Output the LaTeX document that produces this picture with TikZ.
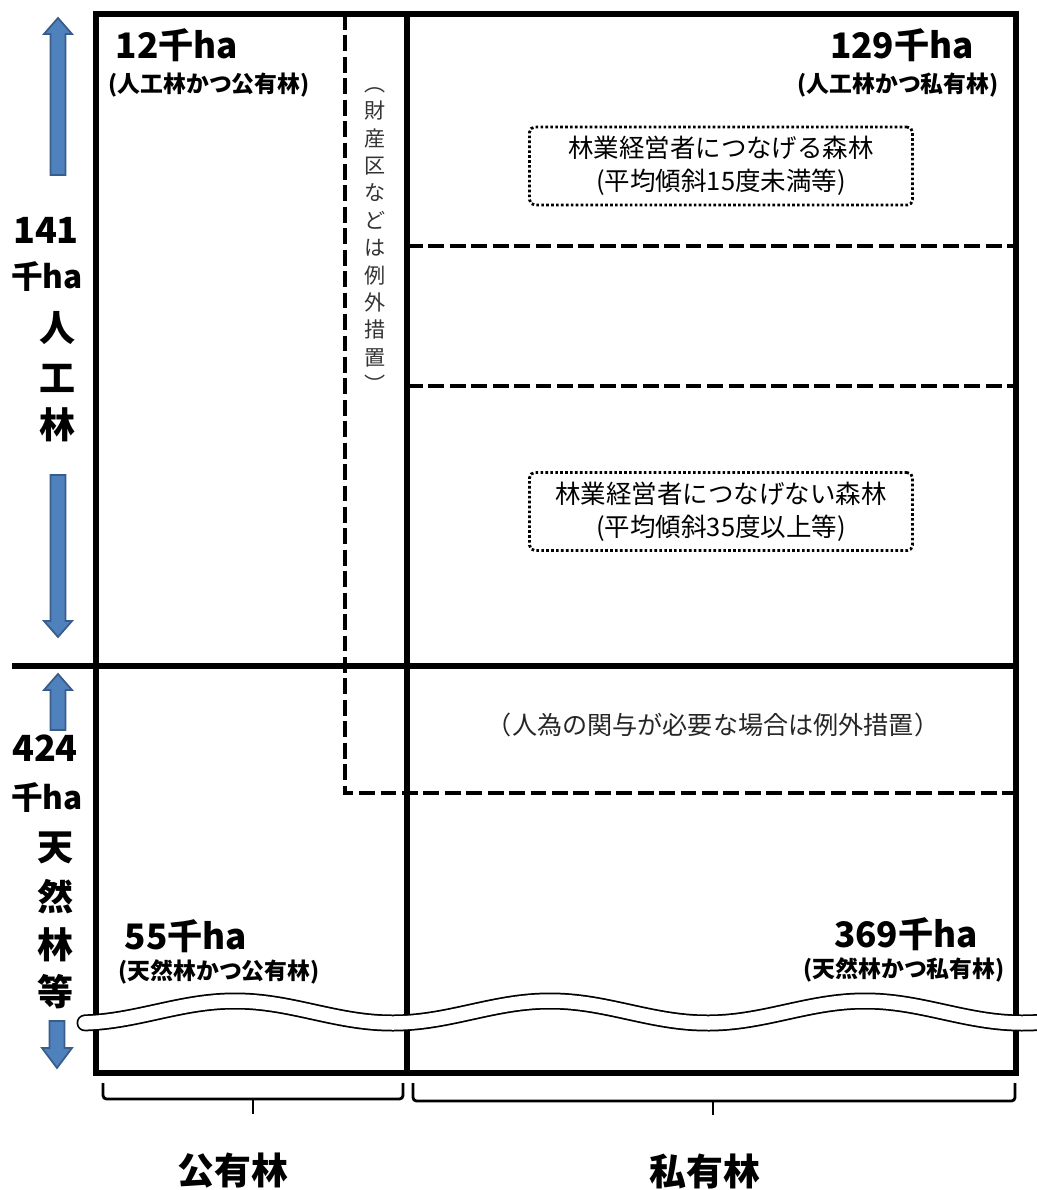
\documentclass[tikz,border=0pt]{standalone}
\usepackage{fontspec}
\setmainfont{Noto Sans CJK JP}
\usetikzlibrary{positioning}
\definecolor{arrowfill}{RGB}{79,129,189}
\definecolor{arrowline}{RGB}{56,93,138}
\tikzset{
  frame/.style={black, line width=3.3pt},
  divider/.style={black, line width=3pt},
  dashline/.style={black, line width=2.3pt, dash pattern=on 9pt off 3.2pt},
  dotbox/.style={draw, line width=1.6pt, dash pattern=on 1.5pt off 1.3pt, rounded corners=3pt,
    minimum width=7.66cm, minimum height=1.56cm, align=center,
    font=\fontsize{14.5}{18.7}\selectfont},
  blockarrow/.style={fill=arrowfill, draw=arrowline, line width=1pt},
  bracket/.style={black, line width=1.6pt, rounded corners=2pt},
  amount/.style={font=\bfseries\fontsize{20}{24}\selectfont},
  sublabel/.style={font=\bfseries\fontsize{13}{16}\selectfont},
  sidelabel/.style={font=\bfseries\fontsize{20.5}{24}\selectfont},
  owner/.style={font=\bfseries\fontsize{21}{24}\selectfont},
  note/.style={font=\fontsize{14.3}{18}\selectfont, black!85},
  vnote/.style={font=\fontsize{12}{15.6}\selectfont, align=center, black!80, inner sep=0pt},
}
\begin{document}
\begin{tikzpicture}[x=0.02cm, y=-0.02cm]
  \useasboundingbox (0,0) rectangle (1037,1190);
  % dashed limits of the exceptions
  \draw[dashline] (345,14) -- (345,793) -- (1016,793);
  \draw[dashline] (407,246) -- (1016,246);
  \draw[dashline] (407,386) -- (1016,386);
  % frame and dividers
  \draw[frame] (96,14) rectangle (1016,1073);
  \draw[divider] (407,14) -- (407,1073);
  \draw[frame] (12,666) -- (1016,666);

  % blue arrows on the left
  \filldraw[blockarrow] (50.5,175) -- (50.5,34) -- (44,34) -- (58,18) -- (72,34) -- (65.5,34) -- (65.5,175) -- cycle;
  \filldraw[blockarrow] (50.5,475) -- (50.5,621) -- (44,621) -- (58,637) -- (72,621) -- (65.5,621) -- (65.5,475) -- cycle;
  \filldraw[blockarrow] (50.5,730) -- (50.5,690) -- (44,690) -- (58,674) -- (72,690) -- (65.5,690) -- (65.5,730) -- cycle;
  \filldraw[blockarrow] (49.5,1021) -- (49.5,1048) -- (42,1048) -- (57,1068) -- (72,1048) -- (64.5,1048) -- (64.5,1021) -- cycle;

  % left column
  \node[sidelabel] (plantnum) at (46,230) {141};
  \node[sidelabel, font=\bfseries\fontsize{18}{20}\selectfont] (plantunit) at (47,277) {千ha};
  \node[sidelabel] (plantA) at (58,328) {人};
  \node[sidelabel] (plantB) at (58,378) {工};
  \node[sidelabel] (plantC) at (58,425) {林};
  \node[sidelabel] (natnum) at (45,748) {424};
  \node[sidelabel, font=\bfseries\fontsize{18}{20}\selectfont] (natunit) at (47,798) {千ha};
  \node[sidelabel] (natA) at (56,848) {天};
  \node[sidelabel] (natB) at (56,897) {然};
  \node[sidelabel] (natC) at (56,945) {林};
  \node[sidelabel] (natD) at (56,992) {等};

  % amounts in the four cells
  \node[amount] (pubplant) at (177,45) {12千ha};
  \node[sublabel] (pubplantsub) at (209,85) {(人工林かつ公有林)};
  \node[amount] (privplant) at (902,45) {129千ha};
  \node[sublabel] (privplantsub) at (898,85) {(人工林かつ私有林)};
  \node[amount] (pubnat) at (186,936) {55千ha};
  \node[sublabel] (pubnatsub) at (219,972) {(天然林かつ公有林)};
  \node[amount] (privnat) at (906,934) {369千ha};
  \node[sublabel] (privnatsub) at (904,970) {(天然林かつ私有林)};

  % notes
  \node[vnote] (zaisanku) at (375,240) {︵\\財\\産\\区\\な\\ど\\は\\例\\外\\措\\置\\︶};
  \node[dotbox] (linked) at (721,166) {林業経営者につなげる森林\\(平均傾斜15度未満等)};
  \node[dotbox] (unlinked) at (721,511.5) {林業経営者につなげない森林\\(平均傾斜35度以上等)};
  \node[note] (human) at (713,725) {（人為の関与が必要な場合は例外措置）};

  % wavy cut
  \draw[black, line width=0.34cm, line cap=round] plot[domain=85:1050, samples=120, smooth] (\x, {1012-11*cos(1.142857*(\x-235))});
  \draw[white, line width=0.27cm, line cap=round] plot[domain=85:1050, samples=120, smooth] (\x, {1012-11*cos(1.142857*(\x-235))});

  % brackets and owners
  \draw[bracket] (103,1083) -- (103,1099) -- (403,1099) -- (403,1083);
  \draw[bracket] (253,1099) -- (253,1114);
  \draw[bracket] (413,1083) -- (413,1101) -- (1015,1101) -- (1015,1083);
  \draw[bracket] (713,1101) -- (713,1115);
  \node[owner] (public) at (233,1171) {公有林};
  \node[owner] (private) at (705,1171) {私有林};
\end{tikzpicture}
\end{document}
